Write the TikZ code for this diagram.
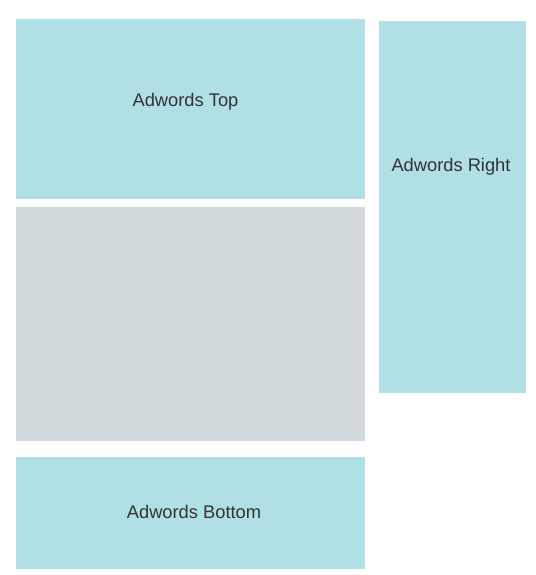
\documentclass[tikz,border=0pt]{standalone}
\usepackage{fontspec}
\setmainfont{Liberation Sans}
\definecolor{adcyan}{HTML}{B0E0E6}
\definecolor{adgray}{HTML}{D3DADD}
\definecolor{adtext}{HTML}{333333}
\begin{document}
\begin{tikzpicture}[x=1pt,y=-1pt,
  slot/.style={fill=adcyan,draw=none,inner sep=0pt,outer sep=0pt},
  content/.style={fill=adgray,draw=none,inner sep=0pt,outer sep=0pt},
  slottext/.style={text=adtext,font=\fontsize{18.3}{21}\selectfont,inner sep=0pt,anchor=center}]
\useasboundingbox (0,0) rectangle (535,575);
\fill[white] (0,0) rectangle (535,575);
\node[slot,minimum width=349pt,minimum height=180pt] (top) at (190.5,109) {};
\node[slot,minimum width=147pt,minimum height=372pt] (right) at (452.5,207) {};
\node[content,minimum width=349pt,minimum height=234pt] (main) at (190.5,324) {};
\node[slot,minimum width=349pt,minimum height=112pt] (bottom) at (190.5,513) {};
\node[slottext] (toplabel) at (185.5,101.5) {Adwords Top};
\node[slottext] (rightlabel) at (451,167) {Adwords Right};
\node[slottext] (bottomlabel) at (194,511.5) {Adwords Bottom};
\end{tikzpicture}
\end{document}
